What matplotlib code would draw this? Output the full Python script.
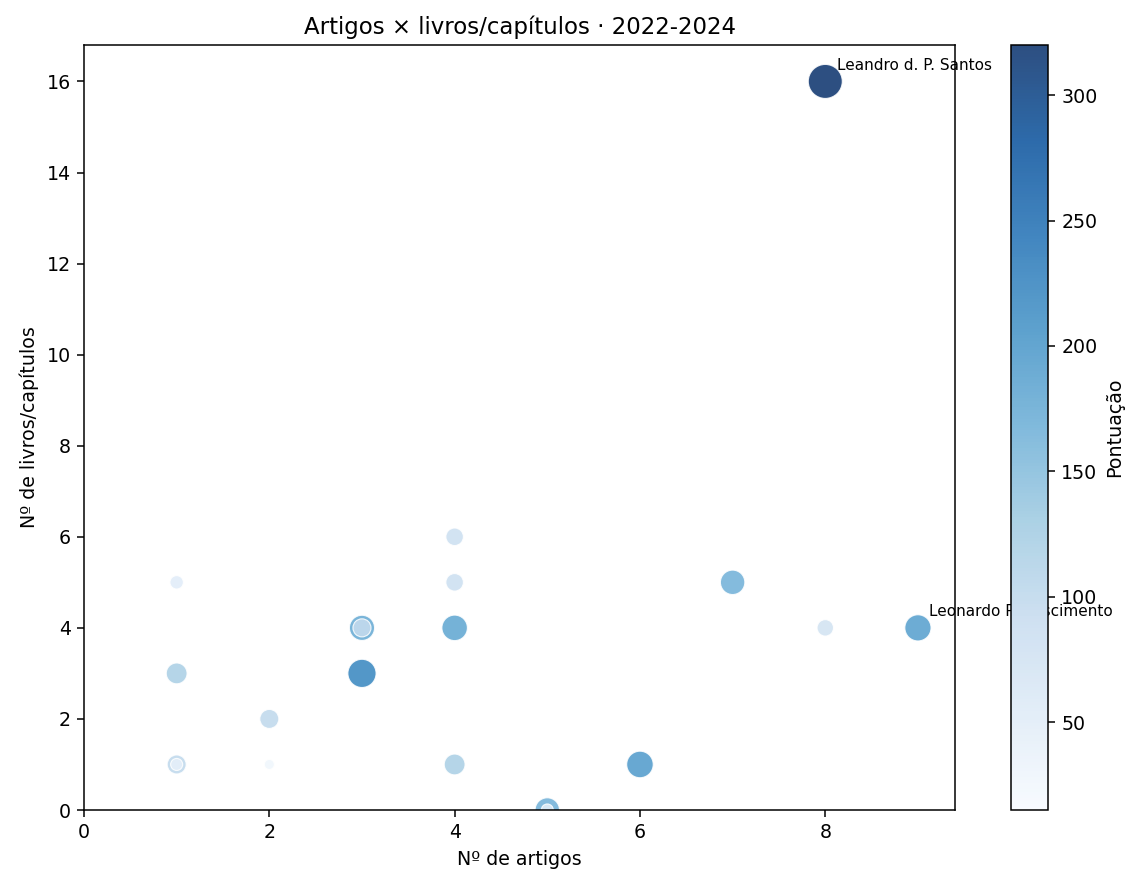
import matplotlib
matplotlib.use("Agg")
import matplotlib.pyplot as plt
import numpy as np

# Data
artigos = [8, 9, 7, 8, 6, 5, 5, 4, 4, 4, 4, 3, 3, 3, 2, 2, 1, 1, 1, 1]
livros = [16, 4, 5, 4, 1, 0, 0, 6, 5, 4, 1, 4, 4, 3, 2, 1, 5, 3, 1, 1]
pontuacao = [320, 190, 165, 75, 195, 165, 40, 85, 85, 180, 120, 175, 90, 220, 100, 28, 50, 120, 100, 40]
anotados = ["Leandro d. P. Santos", "Leonardo P. Nascimento"]
anotados_idx = [0, 1]
cbar_ticks = [50, 100, 150, 200, 250, 300]
vmin, vmax = 15, 320

DPI = 137
fig = plt.figure(figsize=(1144 / DPI, 889 / DPI), dpi=DPI)
W, H = 1144, 889
ax = fig.add_axes([84 / W, (H - 810) / H, 871 / W, 765 / H])
cax = fig.add_axes([1011 / W, (H - 810) / H, 37 / W, 765 / H])

order = np.argsort(pontuacao, kind="stable")[::-1]
x = np.array(artigos)[order]
y = np.array(livros)[order]
p = np.array(pontuacao)[order]

sc = ax.scatter(x, y, s=p * 1.0, c=p, cmap="Blues", vmin=vmin, vmax=vmax,
                alpha=0.85, edgecolors="white", linewidths=0.6)

for name, i in zip(anotados, anotados_idx):
    ax.annotate(name, (artigos[i], livros[i]), xytext=(6, 6),
                textcoords="offset points", fontsize=8, annotation_clip=False)

ax.set_xlim(left=0)
ax.set_ylim(bottom=0)
ax.set_title("Artigos × livros/capítulos · 2022-2024", fontsize=12)
ax.set_xlabel("Nº de artigos")
ax.set_ylabel("Nº de livros/capítulos")

cb = fig.colorbar(sc, cax=cax)
cb.set_ticks(cbar_ticks)
cb.set_label("Pontuação")

fig.savefig("out.png", dpi=DPI)
